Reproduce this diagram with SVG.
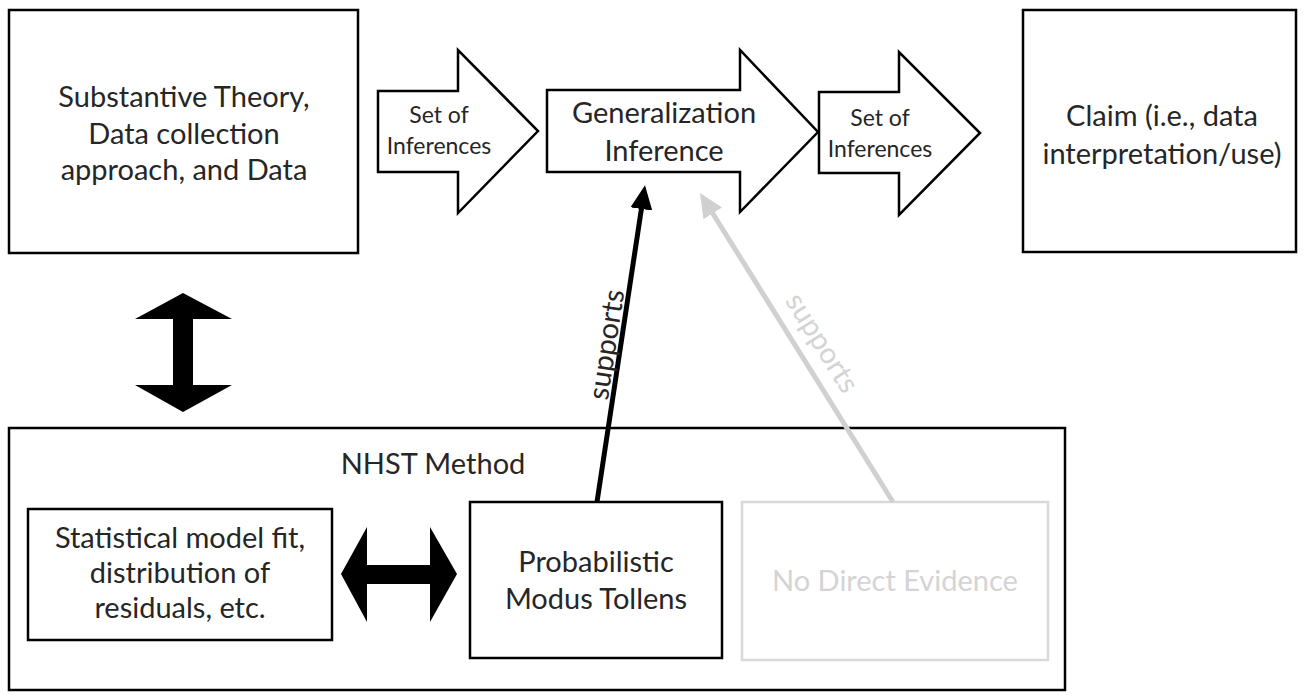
<svg xmlns="http://www.w3.org/2000/svg" width="1307" height="695" viewBox="0 0 1307 695">
<defs>
<style>
.box{fill:#fff;stroke:#000;stroke-width:2.5}
.gbox{fill:#fff;stroke:#d9d9d9;stroke-width:2.5}
.blk{fill:#000;stroke:none}
.t{font-family:Lato,"Open Sans",sans-serif;font-size:29px;fill:#262626;text-anchor:middle}
.ts{font-size:23px}
.g{fill:#d4d4d4}
.con{fill:none;stroke-width:5}
</style>
<marker id="hb" markerUnits="userSpaceOnUse" viewBox="0 0 24 22" refX="4" refY="11" markerWidth="24" markerHeight="22" orient="auto"><path d="M0,0 L24,11 L0,22 Z" fill="#000"/></marker>
<marker id="hg" markerUnits="userSpaceOnUse" viewBox="0 0 24 22" refX="4" refY="11" markerWidth="24" markerHeight="22" orient="auto"><path d="M0,0 L24,11 L0,22 Z" fill="#d0d0d0"/></marker>
</defs>
<rect width="1307" height="695" fill="#fff"/>

<g id="nhst">
<rect class="box" x="9" y="428" width="1056" height="262"/>
<text class="t" x="433" y="474">NHST Method</text>
</g>

<g id="theory">
<rect class="box" x="9" y="10" width="349" height="243"/>
<text class="t" x="184" y="107">Substantive Theory,</text>
<text class="t" x="184" y="144">Data collection</text>
<text class="t" x="184" y="180">approach, and Data</text>
</g>

<g id="inf1">
<path class="box" d="M378,91 L458,91 L458,50 L538,131 L458,213 L458,172 L378,172 Z"/>
<text class="t ts" x="439" y="123">Set of</text>
<text class="t ts" x="439" y="154">Inferences</text>
</g>

<g id="gen">
<path class="box" d="M547,90 L740,90 L740,50 L818,132 L740,212 L740,172 L547,172 Z"/>
<text class="t" x="664" y="123">Generalization</text>
<text class="t" x="664" y="161">Inference</text>
</g>

<g id="inf2">
<path class="box" d="M819,92 L899,92 L899,52 L980,133 L899,215 L899,173 L819,173 Z"/>
<text class="t ts" x="880" y="126">Set of</text>
<text class="t ts" x="880" y="157">Inferences</text>
</g>

<g id="claim">
<rect class="box" x="1023" y="10" width="273" height="242"/>
<text class="t" x="1162" y="126" font-size="29.5">Claim (i.e., data</text>
<text class="t" x="1162" y="164" font-size="29.5">interpretation/use)</text>
</g>

<g id="stat">
<rect class="box" x="28" y="509" width="304" height="131"/>
<text class="t" x="180" y="548">Statistical model fit,</text>
<text class="t" x="180" y="583">distribution of</text>
<text class="t" x="180" y="618">residuals, etc.</text>
</g>

<g id="pmt">
<rect class="box" x="470" y="502" width="252" height="156"/>
<text class="t" x="596" y="572">Probabilistic</text>
<text class="t" x="596" y="609">Modus Tollens</text>
</g>

<g id="nde">
<rect class="gbox" x="742" y="502" width="306" height="158"/>
<text class="t g" x="895" y="591">No Direct Evidence</text>
</g>

<g id="connectors">
<path class="blk" d="M183,293 L232,319 L193,319 L193,385 L232,385 L183,412 L135,385 L173,385 L173,319 L135,319 Z"/>
<path class="blk" d="M341,574 L367,527 L367,565 L430,565 L430,527 L457,574 L430,622 L430,584 L367,584 L367,622 Z"/>
<line class="con" x1="597" y1="502" x2="642" y2="205" stroke="#000" marker-end="url(#hb)"/>
<line class="con" x1="893" y1="502" x2="710.6" y2="210" stroke="#d0d0d0" marker-end="url(#hg)"/>
<text class="t" x="0" y="0" font-size="25" transform="translate(616,346) rotate(-81.4)">supports</text>
<text class="t g" x="0" y="0" font-size="25" transform="translate(814,348) rotate(58)">supports</text>
</g>
</svg>
